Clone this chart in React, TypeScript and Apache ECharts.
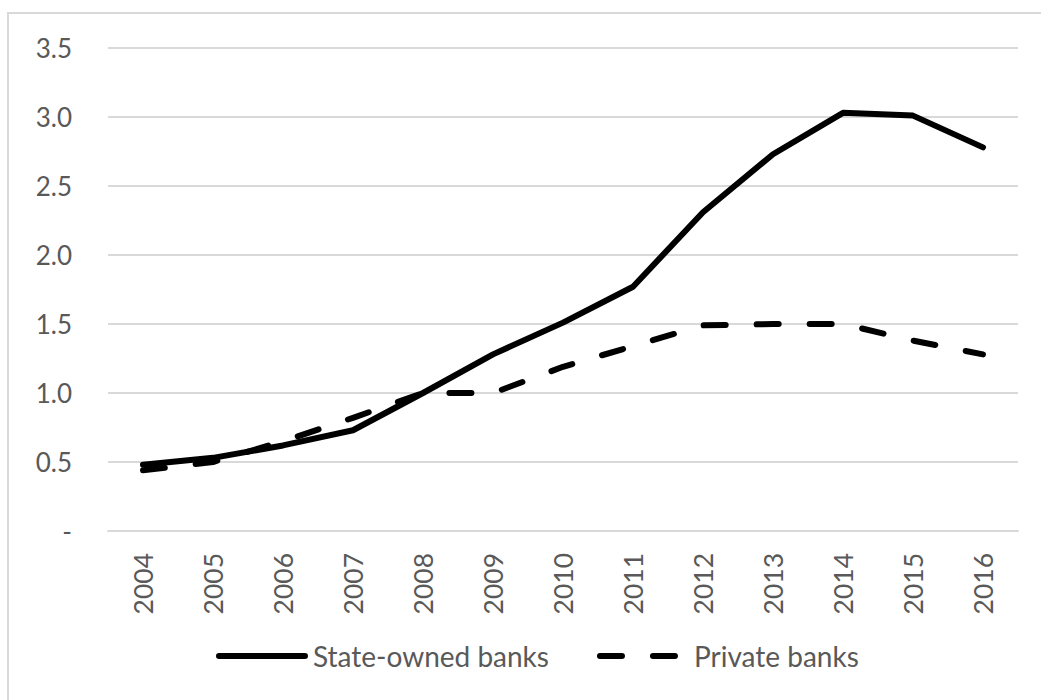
import React, { useEffect, useRef } from "react";
import * as echarts from "echarts";

const years = ["2004","2005","2006","2007","2008","2009","2010","2011","2012","2013","2014","2015","2016"];
const stateOwned = [0.48, 0.53, 0.62, 0.73, 1.0, 1.28, 1.51, 1.77, 2.31, 2.73, 3.03, 3.01, 2.78];
const privateBanks = [0.44, 0.5, 0.65, 0.82, 1.0, 1.0, 1.19, 1.34, 1.49, 1.5, 1.5, 1.38, 1.28];
const seriesNames = ["State-owned banks", "Private banks"];

export default function App() {
  const ref = useRef<HTMLDivElement>(null);
  useEffect(() => {
    document.body.style.margin = "0";
    const chart = echarts.init(ref.current!, null, { renderer: "svg" });
    const font = "Lato";
    const textColor = "#595959";
    chart.setOption({
      animation: false,
      backgroundColor: "#ffffff",
      graphic: [
        {
          type: "rect",
          shape: { x: 8, y: 13, width: 1045, height: 700 },
          style: { fill: "none", stroke: "#d9d9d9", lineWidth: 2 },
          silent: true,
        },
      ],
      grid: { left: 108, right: 23, top: 48, bottom: 169 },
      legend: {
        bottom: 25,
        left: 211,
        itemWidth: 86,
        itemHeight: 14,
        itemGap: 48,
        itemStyle: { opacity: 0 },
        lineStyle: { width: 6, cap: "round", color: "#000" },
        textStyle: { fontFamily: font, fontSize: 28, color: textColor, padding: [0, 0, 0, 3] },
        data: seriesNames,
      },
      xAxis: {
        type: "category",
        data: years,
        boundaryGap: true,
        axisLine: { show: true, lineStyle: { color: "#d9d9d9", width: 2 } },
        axisTick: { show: false },
        axisLabel: {
          rotate: 90,
          margin: 22,
          fontFamily: font,
          fontSize: 26.5,
          color: textColor,
        },
      },
      yAxis: {
        type: "value",
        min: 0,
        max: 3.5,
        interval: 0.5,
        axisLine: { show: false },
        axisTick: { show: false },
        splitLine: { lineStyle: { color: "#d9d9d9", width: 2 } },
        axisLabel: {
          margin: 36,
          fontFamily: font,
          fontSize: 26,
          color: textColor,
          formatter: (v: number) => (v === 0 ? "-" : v.toFixed(1)),
        },
      },
      series: [
        {
          name: seriesNames[0],
          type: "line",
          data: stateOwned,
          symbol: "none",
          lineStyle: { color: "#000", width: 6, cap: "round", join: "round" },
          itemStyle: { color: "#000" },
        },
        {
          name: seriesNames[1],
          type: "line",
          data: privateBanks,
          symbol: "none",
          lineStyle: { color: "#000", width: 6, type: [22, 31], cap: "round", join: "round" },
          itemStyle: { color: "#000" },
        },
      ],
    });
    return () => chart.dispose();
  }, []);
  return <div ref={ref} style={{ width: 1041, height: 700 }} />;
}
